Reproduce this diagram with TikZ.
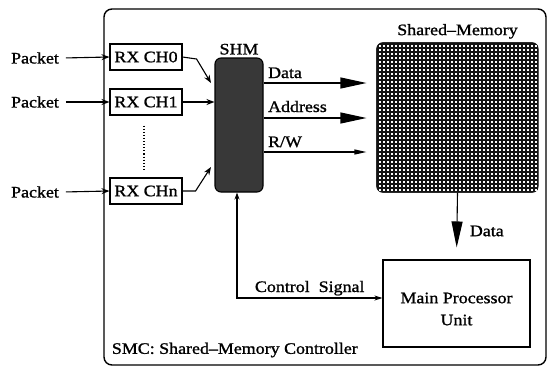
\documentclass[tikz,border=0pt]{standalone}
\usepackage{fontspec}
\setmainfont{Liberation Serif}[FakeStretch=1.12,FakeBold=1.2]
\usetikzlibrary{arrows.meta,positioning}

\begin{document}
\begin{tikzpicture}[x=1pt,y=-1pt,line width=1.1pt,
      font=\fontsize{16}{18}\selectfont,
      rx/.style={draw,minimum width=72pt,minimum height=26pt,inner sep=0pt},
      arr/.style={-{Stealth[length=8pt,width=6pt]}},
      bigarr/.style={-{Triangle[length=26pt,width=11pt]}},
      smallarr/.style={-{Triangle[length=12pt,width=5pt]}},
      sig/.style={anchor=base west,xshift=4pt,yshift=5pt,inner sep=0pt},
  ]
  \useasboundingbox (0,0) rectangle (548,368);

  %--- SMC frame ---
  \draw[line width=1.4pt,rounded corners=8pt] (104,9) rectangle (546,365);
  \node[anchor=west] (smc) at (108,350) {SMC: Shared--Memory Controller};

  %--- Packets into RX channels ---
  \node[rx] (rx0) at (146,57) {RX CH0};
  \node[rx] (rx1) at (146,102) {RX CH1};
  \node[rx] (rxn) at (146,191) {RX CHn};
  \node (pk0) at (35,58) {Packet};
  \node (pk1) at (35,102) {Packet};
  \node (pkn) at (35,192) {Packet};
  \foreach \i in {0,1,n}
    \draw[arr,shorten <=3pt] (pk\i.east) -- (rx\i.west);
  \draw[dotted,shorten <=10pt,shorten >=8pt] ([xshift=-2pt]rx1.south) -- ([xshift=-2pt]rxn.north);

  %--- SHM ---
  \node[draw,fill=black!78,rounded corners=6pt,minimum width=48pt,
        minimum height=134pt,inner sep=0pt] (shm) at (239,125) {};
  \node[above=-1pt of shm] (shmlbl) {SHM};
  \coordinate (in0) at (211,83);
  \coordinate (inn) at (211,167);
  \draw[arr] (rx0.east) -- ++(14,2) -- (in0);
  \draw[arr] (rx1.east) -- (rx1.east -| shm.west);
  \draw[arr] (rxn.east) -- ++(13,0) -- (inn);

  %--- Shared memory ---
  \node[draw,rounded corners=6pt,minimum width=161pt,minimum height=149pt,
        inner sep=0pt] (mem) at (457.5,117.5) {};
  \begin{scope}
    \clip[rounded corners=6pt] (mem.north west) rectangle (mem.south east);
    \fill[black!92] (mem.north west) rectangle (mem.south east);
    \foreach \y in {46,50,...,190}
      \draw[white,line width=1.5pt,dash pattern=on 1.5pt off 2.5pt] (379,\y) -- (538,\y);
  \end{scope}
  \node[above=0pt of mem] (memlbl) {Shared--Memory};

  \draw[bigarr,shorten >=10pt] (shm.east |- 0,83) -- node[sig,pos=0]{Data} (mem.west |- 0,83);
  \draw[bigarr,shorten >=10pt] (shm.east |- 0,118) -- node[sig,pos=0,yshift=1pt]{Address} (mem.west |- 0,118);
  \draw[smallarr,shorten >=10pt] (shm.east |- 0,152) -- node[sig,pos=0]{R/W} (mem.west |- 0,152);

  %--- Main processor ---
  \node[draw,minimum width=147pt,minimum height=87pt] (mpu) at (456.5,303.5) {};
  \node[align=center] (mputxt) at (456.5,309) {Main Processor\\[4pt]Unit};
  \draw[bigarr,shorten >=12pt] (mem.south) -- (mpu.north);
  \node[anchor=west] (ddata) at (466,231) {Data};

  % control path
  \draw[{Stealth[length=7pt,width=5pt]}-{Stealth[length=8pt,width=5pt]}]
    ([xshift=-2pt]shm.south) |- node[pos=0.75,above,inner sep=2pt]{Control\ \ Signal} ([yshift=5.5pt]mpu.west);
\end{tikzpicture}
\end{document}
